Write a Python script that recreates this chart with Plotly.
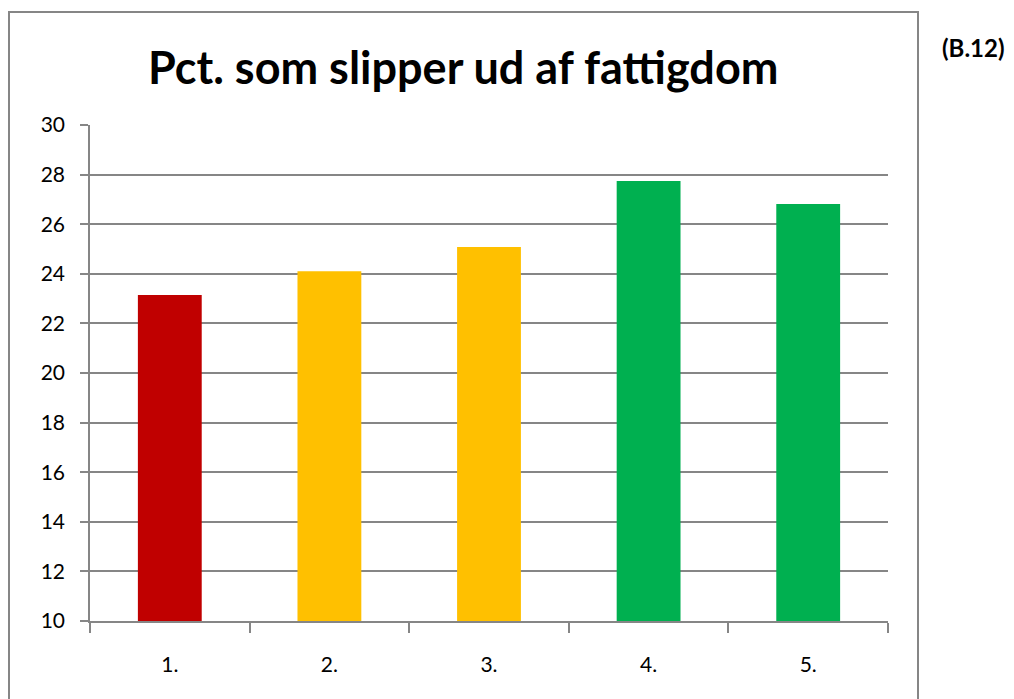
import plotly.graph_objects as go

categories = ["1.", "2.", "3.", "4.", "5."]
values = [23.15, 24.1, 25.08, 27.74, 26.81]
bar_colors = ["#C00000", "#FFC000", "#FFC000", "#00B050", "#00B050"]
y_ticks = [10, 12, 14, 16, 18, 20, 22, 24, 26, 28, 30]
title_text = "Pct. som slipper ud af fattigdom"
tag_text = "(B.12)"

GRAY = "#868686"
FONT = "Lato, 'Open Sans', sans-serif"

fig = go.Figure(go.Bar(
    x=categories, y=values, marker=dict(color=bar_colors, line=dict(width=0)),
    width=0.4,
))

fig.update_layout(
    width=1014, height=699,
    margin=dict(l=82, r=134, t=117, b=86),
    paper_bgcolor="white", plot_bgcolor="white",
    showlegend=False,
    font=dict(family=FONT, size=21, color="black"),
)
fig.update_yaxes(
    range=[10, 30], tickvals=y_ticks, showgrid=True, gridcolor=GRAY, gridwidth=1.5,
    showline=True, linecolor=GRAY, linewidth=1.5,
    ticks="outside", ticklen=8, tickcolor=GRAY, tickwidth=1.5,
    ticklabelstandoff=11, zeroline=False,
    tickfont=dict(family=FONT, size=21),
)
fig.update_xaxes(
    showline=True, linecolor=GRAY, linewidth=1.5,
    ticks="outside", tickson="boundaries", ticklen=10, tickcolor=GRAY, tickwidth=1.5,
    ticklabelstandoff=24, showgrid=False,
    tickfont=dict(family=FONT, size=21),
)

# outer chart border
fig.add_shape(type="rect", xref="paper", yref="paper",
              x0=-0.1015, x1=1.0376, y0=-0.2, y1=1.2278,
              line=dict(color=GRAY, width=2), layer="below")

fig.add_annotation(text=f"<b>{title_text}</b>", xref="paper", yref="paper",
                   x=0.4674, y=1.117, showarrow=False, xanchor="center", yanchor="middle",
                   font=dict(family=FONT, size=45, color="black"))
fig.add_annotation(text=f"<b>{tag_text}</b>", xref="paper", yref="paper",
                   x=1.107, y=1.157, showarrow=False, xanchor="center", yanchor="middle",
                   font=dict(family=FONT, size=24, color="black"))

fig.write_html("out.html")
